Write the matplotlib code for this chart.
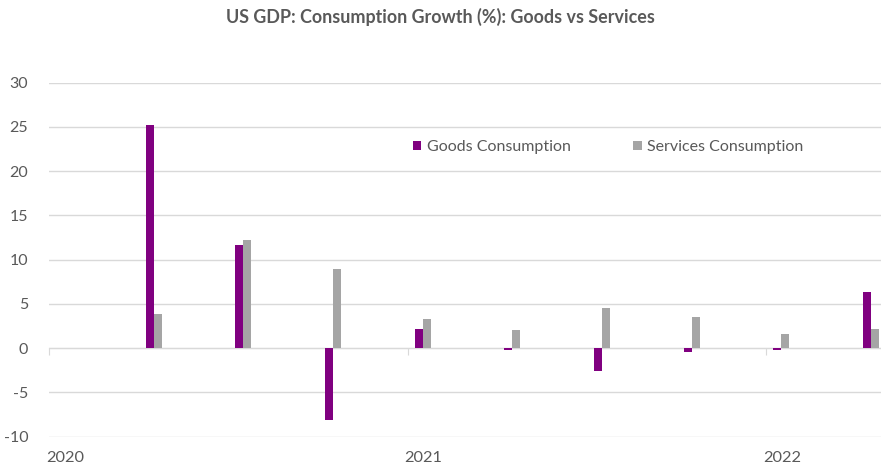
import matplotlib.pyplot as plt
import matplotlib.transforms as mtransforms
import numpy as np
import pandas as pd

# quarterly readings, dated by first month of the quarter
quarters = ["2020-04", "2020-07", "2020-10", "2021-01", "2021-04",
            "2021-07", "2021-10", "2022-01", "2022-04"]
goods = [25.2, 11.6, -8.1, 2.2, -0.2, -2.6, -0.4, -0.25, 6.4]
services = [3.9, 12.2, 9.0, 3.35, 2.05, 4.5, 3.55, 1.6, 2.15]
years = ["2020", "2021", "2022"]

PURPLE = "#800080"
GREY = "#A5A5A5"
TXT = "#595959"

plt.rcParams['font.family'] = ['Lato', 'DejaVu Sans']
plt.rcParams['axes.unicode_minus'] = False

# month slots since Jan 2020 (excel style date axis, base unit = month)
start = pd.Period("2020-01", freq="M")
idx = np.array([(pd.Period(q, freq="M") - start).n for q in quarters]) + 0.5
year_pos = [(pd.Period(y + "-01", freq="M") - start).n for y in years]

fig = plt.figure(figsize=(8.81, 4.70), dpi=100)
ax = fig.add_axes([0.0556, 0.0709, 0.95, 0.7533])

w = 0.265
ax.bar(idx - w / 2, goods, width=w, color=PURPLE, label="Goods Consumption", zorder=3)
ax.bar(idx + w / 2, services, width=w, color=GREY, label="Services Consumption", zorder=3)

ax.set_ylim(-10, 30)
ax.set_xlim(0, 28)
ax.set_yticks(range(-10, 31, 5))
ax.yaxis.grid(True, color="#D9D9D9", linewidth=1)
ax.set_axisbelow(True)

for s in ["top", "right", "left"]:
    ax.spines[s].set_visible(False)
ax.spines["bottom"].set_position(("data", 0))
ax.spines["bottom"].set_color("#D9D9D9")
ax.tick_params(axis="y", length=0, pad=15, labelsize=11.5, labelcolor=TXT)
ax.set_xticks(year_pos)
ax.tick_params(axis="x", length=5, color="#D9D9D9", labelbottom=False)

trans = mtransforms.blended_transform_factory(ax.transData, ax.transAxes)
for p, y in zip(year_pos, years):
    ax.text(p - 0.1, -0.04, y, transform=trans, ha="left", va="top",
            fontsize=11.8, color=TXT)

fig.text(0.5, 0.963, "US GDP: Consumption Growth (%): Goods vs Services",
         ha="center", va="center", fontsize=12.9, fontweight="bold", color=TXT)

leg = fig.legend(loc="center left", bbox_to_anchor=(0.4683, 0.687), ncol=2,
                 frameon=False, fontsize=11.5, handlelength=0.55, handleheight=0.55,
                 handletextpad=0.35, columnspacing=3.9, borderpad=0, borderaxespad=0)
for t in leg.get_texts():
    t.set_color(TXT)

fig.savefig("out.png", dpi=100)
